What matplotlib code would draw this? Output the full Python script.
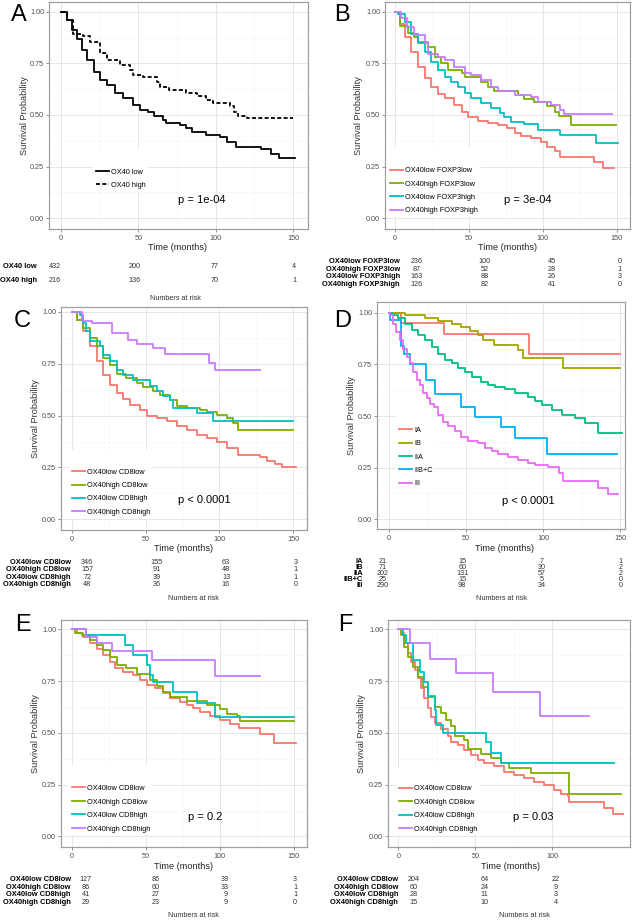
import numpy as np
import matplotlib.pyplot as plt

plt.rcParams['font.family'] = ['Liberation Sans', 'DejaVu Sans']

W, H = 636, 921

# ggplot default hues
hue4 = ['#F8766D', '#7CAE00', '#00BFC4', '#C77CFF']
hue5 = ['#F8766D', '#A3A500', '#00BF7D', '#00B0F6', '#E76BF3']

# ---------------- A : OX40 low / high
a_labels = ['OX40 low', 'OX40 high']
a_low_t = [0, 3.7, 6.9, 10, 13.3, 16.6, 21, 25, 29.5, 35, 40, 46.7, 51, 56, 60, 66, 68, 77, 81, 85,
           94, 103, 107, 113, 129.5, 136, 141, 151]
a_low_s = [1, 0.96, 0.91, 0.87, 0.815, 0.766, 0.71, 0.67, 0.645, 0.605, 0.58, 0.548, 0.524, 0.516,
           0.495, 0.476, 0.463, 0.452, 0.435, 0.419, 0.403, 0.395, 0.371, 0.347, 0.334, 0.311, 0.29, 0.29]
a_high_t = [0, 3.7, 8, 14.4, 18.7, 25, 29.5, 38, 44.5, 46.7, 53, 62, 64, 70, 81, 87.6, 94, 98, 109,
            112, 114.5, 120, 150]
a_high_s = [1, 0.96, 0.895, 0.885, 0.855, 0.80, 0.766, 0.742, 0.718, 0.694, 0.685, 0.661, 0.634,
            0.621, 0.605, 0.592, 0.573, 0.56, 0.544, 0.516, 0.495, 0.484, 0.484]
a_risk = [[432, 200, 77, 4], [216, 136, 70, 1]]

# ---------------- B : OX40 x FOXP3
b_labels = ['OX40low FOXP3low', 'OX40high FOXP3low', 'OX40low FOXP3high', 'OX40high FOXP3high']
b_ll_t = [0, 3, 6.5, 11, 15.5, 20, 24.5, 29, 33.5, 40, 45, 49, 56, 63, 70, 76, 81, 85, 92, 99, 103,
          108, 112, 135, 140.5, 148]
b_ll_s = [1, 0.94, 0.88, 0.806, 0.734, 0.677, 0.637, 0.60, 0.58, 0.548, 0.516, 0.489, 0.473, 0.463,
          0.452, 0.435, 0.414, 0.398, 0.387, 0.371, 0.347, 0.323, 0.298, 0.274, 0.242, 0.242]
b_hl_t = [0, 3, 9, 13, 15.5, 22, 27, 31, 36, 45, 47, 58, 63, 67, 83, 87.6, 94, 103, 108, 111, 119, 149.5]
b_hl_s = [1, 0.93, 0.90, 0.88, 0.855, 0.83, 0.782, 0.75, 0.718, 0.705, 0.682, 0.661, 0.634, 0.618,
          0.597, 0.576, 0.565, 0.544, 0.516, 0.495, 0.452, 0.452]
b_lh_t = [0, 2, 6.5, 11, 15.5, 20, 24.5, 29, 33.5, 38, 42.5, 47, 51.5, 58, 65, 70.7, 74, 78.6, 87.6,
          96.6, 112, 136, 151]
b_lh_s = [1, 0.99, 0.95, 0.895, 0.847, 0.806, 0.758, 0.718, 0.685, 0.661, 0.634, 0.605, 0.58, 0.556,
          0.532, 0.508, 0.489, 0.468, 0.456, 0.427, 0.403, 0.366, 0.366]
b_hh_t = [0, 4, 7.7, 13, 20, 22, 29, 33.5, 40, 47, 51.5, 58, 65, 70, 81, 92, 96.6, 105.6, 112, 114.6, 147]
b_hh_s = [1, 0.968, 0.927, 0.887, 0.847, 0.798, 0.779, 0.766, 0.734, 0.702, 0.694, 0.669, 0.634,
          0.618, 0.597, 0.589, 0.565, 0.548, 0.524, 0.505, 0.505]
b_risk = [[236, 100, 45, 0], [87, 52, 28, 1], [163, 88, 26, 3], [126, 82, 41, 0]]

# ---------------- C : OX40 x CD8 (all)
cd8_labels = ['OX40low CD8low', 'OX40high CD8low', 'OX40low CD8high', 'OX40high CD8high']
c_ll_t = [0, 3.4, 8, 12.4, 17, 21.4, 26, 30.5, 35, 39.5, 46, 50.8, 57.5, 64.3, 71, 77.8, 84.6, 91.4,
          98, 105, 112.8, 127.5, 132, 137.6, 142, 151.8]
c_ll_s = [1, 0.963, 0.907, 0.834, 0.762, 0.697, 0.649, 0.609, 0.58, 0.552, 0.525, 0.50, 0.488, 0.472,
          0.451, 0.432, 0.408, 0.392, 0.375, 0.343, 0.311, 0.30, 0.279, 0.268, 0.25, 0.25]
c_hl_t = [0, 3.4, 8, 12.4, 17, 21.4, 26, 30.5, 37, 44, 48.5, 55, 60, 66.5, 71, 77.8, 86.8, 91.4, 98,
          105, 109.4, 112.8, 150]
c_hl_s = [1, 0.963, 0.923, 0.874, 0.834, 0.778, 0.746, 0.703, 0.682, 0.658, 0.638, 0.617, 0.60,
          0.577, 0.548, 0.536, 0.525, 0.515, 0.504, 0.488, 0.464, 0.432, 0.432]
c_lh_t = [0, 5.6, 8, 10, 12.4, 19, 21.4, 26, 30.5, 35, 41.7, 53, 57.5, 62, 66.5, 68.8, 84.6, 95.9, 150]
c_lh_s = [1, 0.987, 0.947, 0.907, 0.858, 0.834, 0.794, 0.762, 0.722, 0.697, 0.673, 0.641, 0.617,
          0.595, 0.577, 0.536, 0.512, 0.472, 0.472]
c_hh_t = [0, 7, 14, 27, 38, 44, 55, 63, 93, 97, 127.5]
c_hh_s = [1, 0.957, 0.946, 0.898, 0.866, 0.846, 0.826, 0.795, 0.754, 0.718, 0.718]
c_risk = [[346, 155, 63, 3], [157, 91, 48, 1], [72, 39, 13, 1], [48, 36, 16, 0]]

# ---------------- D : stage
d_labels = ['IA', 'IB', 'IIA', 'IIB+C', 'III']
d_ia_t = [0, 8, 36, 91, 150]
d_ia_s = [1, 0.952, 0.90, 0.80, 0.80]
d_ib_t = [0, 10.6, 23.5, 32, 41, 47, 52.7, 58, 61, 68, 84, 87, 113, 150]
d_ib_s = [1, 0.989, 0.977, 0.961, 0.945, 0.932, 0.913, 0.892, 0.868, 0.844, 0.819, 0.779, 0.735, 0.735]
d_iia_t = [0, 2, 6, 10.6, 15, 19, 23.5, 28, 32, 36.5, 41, 45, 49.4, 53.7, 60, 64.5, 69, 75, 82, 90,
           95, 99, 105.5, 112, 120.7, 127, 135.8, 151]
d_iia_s = [1, 0.989, 0.973, 0.948, 0.916, 0.892, 0.868, 0.835, 0.803, 0.774, 0.755, 0.731, 0.715,
           0.69, 0.666, 0.65, 0.639, 0.629, 0.61, 0.594, 0.573, 0.553, 0.529, 0.505, 0.489, 0.465,
           0.419, 0.419]
d_iib_t = [0, 1, 8, 10, 14, 24, 30, 47, 56, 73, 82, 102.5, 147.6]
d_iib_s = [1, 0.968, 0.84, 0.80, 0.75, 0.677, 0.605, 0.545, 0.497, 0.448, 0.392, 0.316, 0.316]
d_iii_t = [0, 1, 3, 5, 7.3, 9.5, 11.7, 13.8, 16, 18, 20.3, 22.4, 24.6, 26.8, 29, 32, 35.4, 38.6, 43,
           47, 51.6, 58, 62.4, 66.7, 71, 77.5, 84, 90.4, 94.8, 103, 110, 113, 135.8, 142, 148.7]
d_iii_s = [1, 0.989, 0.948, 0.908, 0.868, 0.827, 0.787, 0.755, 0.715, 0.677, 0.65, 0.613, 0.585,
           0.56, 0.545, 0.505, 0.473, 0.453, 0.426, 0.40, 0.379, 0.368, 0.347, 0.331, 0.315, 0.302,
           0.285, 0.274, 0.263, 0.255, 0.226, 0.185, 0.15, 0.124, 0.124]
d_risk = [[21, 15, 7, 1], [71, 60, 30, 2], [202, 131, 57, 2], [25, 15, 5, 0], [290, 98, 34, 0]]

# ---------------- E : OX40 x CD8 (subgroup 1)
e_ll_t = [0, 3.4, 8, 12.4, 17, 21.4, 26, 29, 35, 41.7, 46, 50.8, 56.4, 62, 66.5, 73, 77.8, 82, 86.8,
          93.6, 100, 107, 112.8, 127.5, 136.5, 151.8]
e_ll_s = [1, 0.98, 0.965, 0.932, 0.904, 0.876, 0.844, 0.812, 0.796, 0.78, 0.756, 0.732, 0.715, 0.691,
          0.667, 0.65, 0.635, 0.619, 0.603, 0.582, 0.563, 0.543, 0.522, 0.495, 0.45, 0.45]
e_hl_t = [0, 2.3, 6.8, 12.4, 17, 21.4, 26, 30.5, 37, 44, 53, 57.5, 62, 66.5, 77.8, 91.4, 100, 105,
          111.7, 114, 150]
e_hl_s = [1, 0.984, 0.973, 0.949, 0.924, 0.90, 0.868, 0.828, 0.812, 0.785, 0.756, 0.727, 0.698, 0.672,
          0.656, 0.635, 0.614, 0.592, 0.582, 0.555, 0.555]
e_lh_t = [0, 9.7, 36, 41.7, 50.8, 53, 55, 68.8, 84.6, 97, 150]
e_lh_s = [1, 0.973, 0.924, 0.876, 0.828, 0.78, 0.748, 0.698, 0.643, 0.576, 0.576]
e_hh_t = [0, 9.7, 17, 27, 54, 97, 127.5]
e_hh_s = [1, 0.965, 0.932, 0.893, 0.852, 0.775, 0.775]
e_risk = [[127, 86, 38, 3], [86, 60, 33, 1], [41, 27, 9, 1], [29, 23, 9, 0]]

# ---------------- F : OX40 x CD8 (subgroup 2)
f_ll_t = [0, 2, 4, 6.3, 8.4, 10.6, 12.8, 15, 17, 19.3, 21.4, 23.6, 28, 32.3, 34.4, 38.7, 43, 47.4,
          51.7, 56, 62.5, 69, 75.5, 82, 88.5, 95, 101.5, 106, 110, 111, 134, 139.4, 146]
f_ll_s = [1, 0.98, 0.932, 0.884, 0.844, 0.804, 0.764, 0.715, 0.667, 0.619, 0.579, 0.547, 0.518,
          0.486, 0.458, 0.442, 0.418, 0.394, 0.37, 0.354, 0.338, 0.313, 0.297, 0.281, 0.265, 0.249,
          0.225, 0.206, 0.193, 0.164, 0.137, 0.109, 0.109]
f_hl_t = [0, 2, 4, 6.3, 9.5, 12.8, 16, 19.3, 23.6, 28, 31, 34.4, 36.6, 43, 45, 54, 60.4, 67, 72,
          86.4, 111, 145]
f_hl_s = [1, 0.973, 0.916, 0.868, 0.82, 0.772, 0.723, 0.675, 0.627, 0.595, 0.563, 0.531, 0.486,
          0.466, 0.421, 0.399, 0.378, 0.354, 0.33, 0.305, 0.204, 0.204]
f_lh_t = [0, 3, 5.2, 9.5, 13.9, 17, 19.3, 23.6, 24.7, 29, 57, 60.4, 67, 140.5]
f_lh_s = [1, 0.973, 0.932, 0.852, 0.796, 0.748, 0.68, 0.611, 0.539, 0.498, 0.458, 0.402, 0.354, 0.354]
f_hh_t = [0, 7.4, 20.3, 37.7, 61.5, 91.8, 124]
f_hh_s = [1, 0.932, 0.857, 0.788, 0.699, 0.581, 0.581]
f_risk = [[204, 64, 22], [60, 24, 9], [28, 11, 3], [15, 10, 4]]

risk_times4 = [0, 50, 100, 150]
risk_times3 = [0, 50, 100]

# layout, all in pixels of the 636x921 picture
panels = [
    dict(letter='A', let_xy=(11, 15), box=(49, 2, 308, 229), xlim=(-7.8, 159.7), ylim=(-0.053, 1.048),
         curves=[(a_low_t, a_low_s), (a_high_t, a_high_s)], labels=a_labels, colors=['black', 'black'],
         styles=['-', (0, (2.2, 1.3))], leg=(96, 170, 13.3), pval='p = 1e-04', pxy=(91, 0.089),
         risk=a_risk, rtimes=risk_times4, rpx=(55, 294), rrows=(266.5, 280), rlab=37,
         ylab_x=24.5, xlab=(178, 248), nar=(175, 298)),
    dict(letter='B', let_xy=(334, 15), box=(385, 2, 630, 229), xlim=(-6.9, 159.1), ylim=(-0.053, 1.048),
         curves=[(b_ll_t, b_ll_s), (b_hl_t, b_hl_s), (b_lh_t, b_lh_s), (b_hh_t, b_hh_s)],
         labels=b_labels, colors=hue4, styles=['-'] * 4, leg=(390, 168.5, 13.4), pval='p = 3e-04',
         pxy=(90, 0.089), risk=b_risk, rtimes=risk_times4, rpx=(416.7, 619.7), rrows=(261.7, 284.3),
         rlab=400, ylab_x=358.3, xlab=(507, 248), nar=None),
    dict(letter='C', let_xy=(14, 321), box=(61, 307, 307, 530), xlim=(-7.2, 159.2), ylim=(-0.052, 1.024),
         curves=[(c_ll_t, c_ll_s), (c_hl_t, c_hl_s), (c_lh_t, c_lh_s), (c_hh_t, c_hh_s)],
         labels=cd8_labels, colors=hue4, styles=['-'] * 4, leg=(72, 470, 13.4), pval='p < 0.0001',
         pxy=(90, 0.093), risk=c_risk, rtimes=risk_times4, rpx=(87.3, 295.3), rrows=(562.3, 585),
         rlab=71, ylab_x=35, xlab=(183, 548.7), nar=(193, 599)),
    dict(letter='D', let_xy=(334, 321), box=(377, 302, 625, 529), xlim=(-7.6, 153), ylim=(-0.048, 1.053),
         curves=[(d_ia_t, d_ia_s), (d_ib_t, d_ib_s), (d_iia_t, d_iia_s), (d_iib_t, d_iib_s),
                 (d_iii_t, d_iii_s)],
         labels=d_labels, colors=hue5, styles=['-'] * 5, leg=(399, 428.3, 13.35), pval='p < 0.0001',
         pxy=(90.4, 0.09), risk=d_risk, rtimes=risk_times4, rpx=(383, 620.7), rrows=(561.7, 585),
         rlab=363, ylab_x=351.3, xlab=(504.7, 548.3), nar=(501, 599)),
    dict(letter='E', let_xy=(15, 625), box=(61, 620, 307, 847), xlim=(-7.2, 159.1), ylim=(-0.051, 1.045),
         curves=[(e_ll_t, e_ll_s), (e_hl_t, e_hl_s), (e_lh_t, e_lh_s), (e_hh_t, e_hh_s)],
         labels=cd8_labels, colors=hue4, styles=['-'] * 4, leg=(72, 786, 13.6), pval='p = 0.2',
         pxy=(90, 0.093), risk=e_risk, rtimes=risk_times4, rpx=(85.7, 295), rrows=(879.3, 902.7),
         rlab=71, ylab_x=35.3, xlab=(183, 866.7), nar=(193, 915)),
    dict(letter='F', let_xy=(338, 625), box=(388, 620, 630, 847), xlim=(-6.7, 150.6), ylim=(-0.051, 1.045),
         curves=[(f_ll_t, f_ll_s), (f_hl_t, f_hl_s), (f_lh_t, f_lh_s), (f_hh_t, f_hh_s)],
         labels=cd8_labels, colors=hue4, styles=['-'] * 4, leg=(399, 786.7, 13.4), pval='p = 0.03',
         pxy=(87.4, 0.096), risk=f_risk, rtimes=risk_times3, rpx=(413.7, 626.7), rrows=(879.3, 902.7),
         rlab=398, ylab_x=362, xlab=(510.3, 866.7), nar=(524, 915)),
]

FS_TICK = 5.2
FS_LAB = 6.6
FS_LEG = 5.3
FS_RISK = 5.2


def fx(px):
    return px / W


def fy(py):
    return 1 - py / H


fig = plt.figure(figsize=(W / 100, H / 100), dpi=100)

for p in panels:
    l, t, r, b = p['box']
    ax = fig.add_axes([fx(l), fy(b), (r - l) / W, (b - t) / H])
    ax.set_xlim(*p['xlim'])
    ax.set_ylim(*p['ylim'])

    for (tt, ss), lab, col, ls in zip(p['curves'], p['labels'], p['colors'], p['styles']):
        ax.step(tt, ss, where='post', color=col, lw=1.3, linestyle=ls, label=lab, zorder=3)

    xt = p['rtimes']
    ax.set_xticks(xt)
    ax.set_xticks([x + 25 for x in xt[:-1]], minor=True)
    ax.set_yticks([0, 0.25, 0.5, 0.75, 1.0])
    ax.set_yticks([0.125, 0.375, 0.625, 0.875], minor=True)
    ax.set_yticklabels(['0.00', '0.25', '0.50', '0.75', '1.00'])
    ax.grid(True, which='major', color='#E6E6E6', lw=0.7, zorder=0)
    ax.grid(True, which='minor', color='#F3F3F3', lw=0.4, zorder=0)
    ax.tick_params(which='major', labelsize=FS_TICK, labelcolor='#4D4D4D', color='#7F7F7F',
                   length=2, width=0.6)
    ax.tick_params(axis='y', pad=1.5)
    ax.tick_params(axis='x', pad=2.5)
    ax.tick_params(which='minor', length=0)
    for sp in ax.spines.values():
        sp.set_color('#A0A0A0')
        sp.set_linewidth(0.9)

    # legend: handle left edge and first row centre in pixels
    lx, ly, rowh = p['leg']
    leg = ax.legend(loc='upper left', fontsize=FS_LEG, frameon=True, facecolor='white',
                    edgecolor='none', framealpha=1, handlelength=1.7, handletextpad=0.35,
                    labelspacing=(rowh - 7.2) / 7.36, borderpad=0.35, borderaxespad=0,
                    title=' ', title_fontsize=8)
    leg.set_zorder(5)
    pad = 0.35 * 7.36
    top_px = ly - 3.6 - pad - 14
    leg.set_bbox_to_anchor(((lx - pad - l) / (r - l), (b - top_px) / (b - t)), transform=ax.transAxes)

    ax.text(p['pxy'][0], p['pxy'][1], p['pval'], ha='center', va='center', fontsize=8, zorder=6)

    # axis titles and panel letter
    fig.text(fx(p['ylab_x']), fy((t + b) / 2), 'Survival Probability', rotation=90,
             ha='center', va='center', fontsize=FS_LAB, color='#333333')
    fig.text(fx(p['xlab'][0]), fy(p['xlab'][1]), 'Time (months)', ha='center', va='center',
             fontsize=FS_LAB, color='#222222')
    fig.text(fx(p['let_xy'][0]), fy(p['let_xy'][1]), p['letter'], ha='left', va='center', fontsize=17)

    # risk table
    n = len(p['risk'])
    r0, r1 = p['rrows']
    step = (r1 - r0) / (n - 1)
    px0, px150 = p['rpx']
    rax = fig.add_axes([fx(px0), fy(r1 + step / 2), (px150 - px0) / W, step * n / H])
    rax.set_xlim(0, 150)
    rax.set_ylim(n - 0.5, -0.5)
    rax.axis('off')
    lab_x = (p['rlab'] - px0) / (px150 - px0) * 150
    for i, (lab, row) in enumerate(zip(p['labels'], p['risk'])):
        rax.text(lab_x, i, lab, ha='right', va='center', fontsize=FS_RISK + 0.2, fontweight='bold',
                 clip_on=False)
        for tm, val in zip(p['rtimes'], row):
            rax.text(tm, i, str(val), ha='center', va='center', fontsize=FS_RISK, color='#333333',
                     clip_on=False)
    if p['nar'] is not None:
        fig.text(fx(p['nar'][0]), fy(p['nar'][1]), 'Numbers at risk', ha='center', va='center',
                 fontsize=FS_RISK, color='#333333')

fig.savefig('out.png', dpi=100, facecolor='white')
